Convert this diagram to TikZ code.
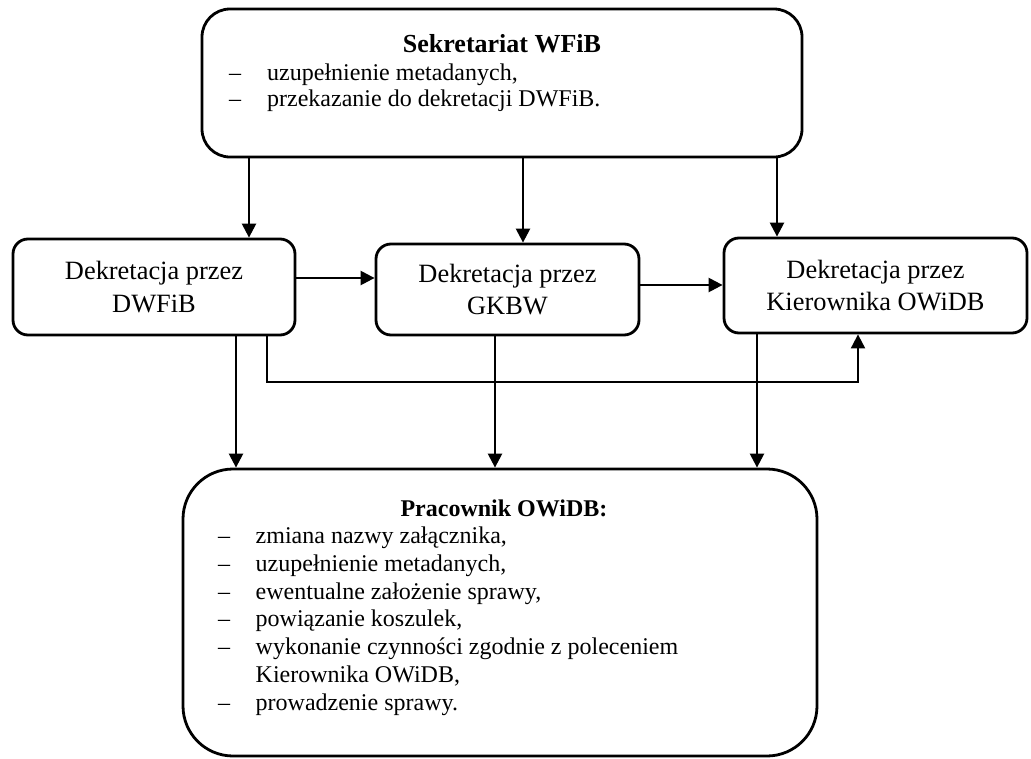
\documentclass[tikz,border=0pt]{standalone}
\usepackage{fontspec}
\setmainfont{Liberation Serif}
\usetikzlibrary{arrows.meta}
\begin{document}
\begin{tikzpicture}[x=1pt,y=-1pt,
  box/.style={draw, line width=2.8pt, inner sep=0pt, rounded corners=#1},
  midbox/.style={box=15pt, align=center, font=\fontsize{26.4}{32.5}\selectfont},
  arr/.style={line width=2.4pt, -{Triangle[length=14pt,width=14pt]}},
  thinarr/.style={line width=2pt, -{Triangle[length=14pt,width=14pt]}},
  listfont/.style={font=\fontsize{24}{27.8}\selectfont},
]
\useasboundingbox (0,0) rectangle (1031,758);

% boxes
\node[box=28pt, minimum width=600pt, minimum height=148pt] (top) at (502,83) {};
\node[midbox, minimum width=282pt, minimum height=96pt] (dw) at (154,287)
  {Dekretacja przez\\DWFiB};
\node[midbox, minimum width=263pt, minimum height=91pt] (gk) at (507.5,289.5)
  {Dekretacja przez\\GKBW};
\node[midbox, minimum width=303pt, minimum height=95pt] (ki) at (875.5,285.5)
  {Dekretacja przez\\Kierownika OWiDB};
\node[box=50pt, minimum width=634pt, minimum height=287pt] (bot) at (500,612.5) {};

% top box text
\node[font=\fontsize{26}{30}\selectfont\bfseries, anchor=base] (toptitle) at (502,52)
  {Sekretariat WFiB};
\node[font=\fontsize{24}{26.5}\selectfont, anchor=base west, inner sep=0pt] (toplist) at (229,80)
  {\begin{tabular}[t]{@{}p{38pt}@{}l@{}}
   – & uzupełnienie metadanych,\\
   – & przekazanie do dekretacji DWFiB.
   \end{tabular}};

% bottom box text
\node[listfont, anchor=base] (bottitle) at (504,516) {\bfseries Pracownik OWiDB:};
\node[listfont, anchor=base west, inner sep=0pt] (botlist) at (218,543.5)
  {\begin{tabular}[t]{@{}p{37.5pt}@{}l@{}}
   – & zmiana nazwy załącznika,\\
   – & uzupełnienie metadanych,\\
   – & ewentualne założenie sprawy,\\
   – & powiązanie koszulek,\\
   – & wykonanie czynności zgodnie z poleceniem\\
     & Kierownika OWiDB,\\
   – & prowadzenie sprawy.
   \end{tabular}};

% connector positions
\coordinate (a1) at (249,0);
\coordinate (a2) at (523,0);
\coordinate (a3) at (777,0);
\coordinate (h1) at (0,278);
\coordinate (h2) at (0,285);
\coordinate (d1) at (236,0);
\coordinate (d2) at (495,0);
\coordinate (d3) at (757,0);
\coordinate (bx) at (267,382);
\coordinate (by) at (858,382);

% from the secretariat to the three decrees
\draw[arr] (a1 |- top.south) -- (a1 |- dw.north);
\draw[arr] (a2 |- top.south) -- (a2 |- gk.north);
\draw[arr] (a3 |- top.south) -- (a3 |- ki.north);

% between the decrees
\draw[arr] (h1 -| dw.east) -- (h1 -| gk.west);
\draw[arr] (h2 -| gk.east) -- (h2 -| ki.west);
\draw[thinarr] (bx |- dw.south) -- (bx) -- (by) -- (by |- ki.south);

% down to the employee
\draw[arr] (d1 |- dw.south) -- (d1 |- bot.north);
\draw[arr] (d2 |- gk.south) -- (d2 |- bot.north);
\draw[arr] (d3 |- ki.south) -- (d3 |- bot.north);
\end{tikzpicture}
\end{document}
